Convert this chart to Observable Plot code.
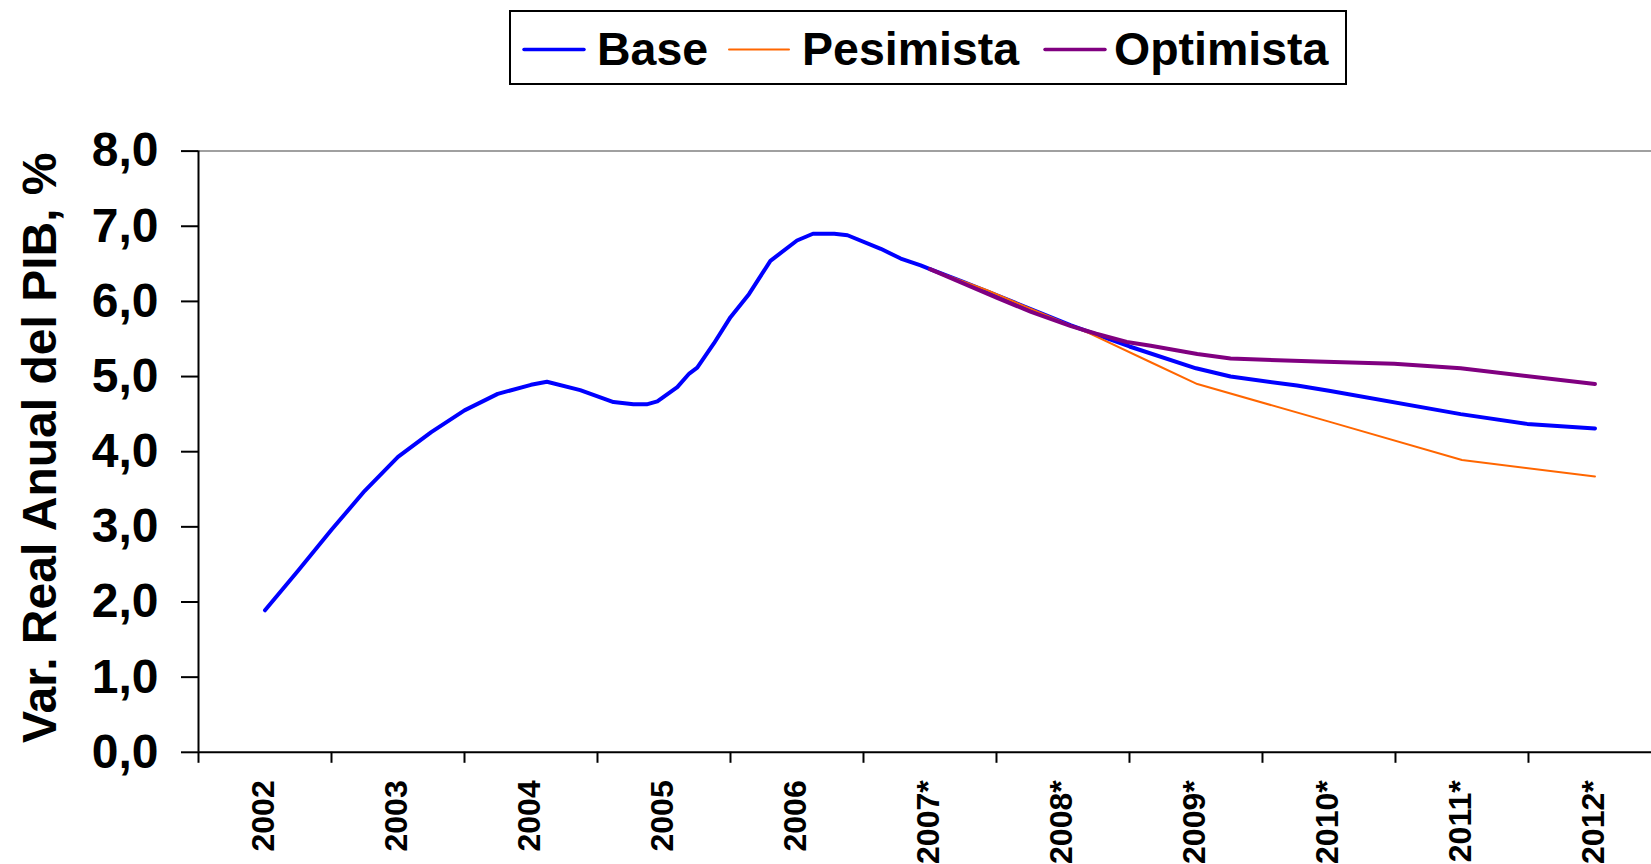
<!DOCTYPE html>
<html>
<head>
<meta charset="utf-8">
<script src="https://cdn.jsdelivr.net/npm/d3@7"></script>
<script src="https://cdn.jsdelivr.net/npm/@observablehq/plot@0.6"></script>
<style>
  html, body { margin: 0; padding: 0; background: #fff; }
  body { width: 1651px; height: 864px; overflow: hidden; font-family: "Liberation Sans", Arial, sans-serif; }
  #legend { display: block; }
  #chart svg { display: block; }
</style>
</head>
<body>
<div id="legend"></div>
<div id="chart"></div>
<script>
// ---- data ----
const seriesNames = ["Base", "Pesimista", "Optimista"];
const seriesColors = ["#0000FF", "#FF6600", "#800080"];
const seriesWidths = [4, 2, 4];

// x positions in years (category centre = year)
const baseT = [2002.00, 2002.25, 2002.50, 2002.75, 2003.00, 2003.25, 2003.50, 2003.75, 2004.00, 2004.12,
               2004.37, 2004.62, 2004.77, 2004.87, 2004.95, 2005.10, 2005.19, 2005.25, 2005.375, 2005.50,
               2005.64, 2005.80, 2006.00, 2006.12, 2006.28, 2006.38, 2006.63, 2006.78, 2006.93, 2007.00,
               2007.25, 2007.63, 2008.06, 2008.50, 2009.00, 2009.26, 2009.76, 2010.00, 2010.99, 2011.49, 2012.00];
const baseV = [1.89, 2.42, 2.96, 3.48, 3.93, 4.26, 4.55, 4.77, 4.89, 4.93,
               4.82, 4.66, 4.63, 4.63, 4.67, 4.86, 5.04, 5.12, 5.44, 5.79,
               6.10, 6.54, 6.81, 6.90, 6.90, 6.88, 6.70, 6.57, 6.48, 6.43,
               6.26, 5.99, 5.68, 5.40, 5.11, 5.00, 4.88, 4.81, 4.50, 4.37, 4.31];

const pesT = [2007.00, 2007.43, 2007.76, 2008.18, 2008.66, 2009.01, 2010.00, 2011.00, 2012.00];
const pesV = [6.43, 6.15, 5.90, 5.59, 5.19, 4.90, 4.40, 3.89, 3.67];

const optT = [2007.00, 2007.25, 2007.50, 2007.76, 2008.06, 2008.25, 2008.48, 2008.66, 2009.01, 2009.26,
              2009.91, 2010.49, 2010.99, 2012.00];
const optV = [6.43, 6.24, 6.05, 5.86, 5.67, 5.57, 5.46, 5.41, 5.30, 5.24,
              5.20, 5.17, 5.11, 4.90];

const xLabelYears = [2002, 2003, 2004, 2005, 2006, 2007, 2008, 2009, 2010, 2011, 2012];
const xLabels = ["2002", "2003", "2004", "2005", "2006", "2007*", "2008*", "2009*", "2010*", "2011*", "2012*"];
const xTickMarks = [2001.5, 2002.5, 2003.5, 2004.5, 2005.5, 2006.5, 2007.5, 2008.5, 2009.5, 2010.5, 2011.5];
const yTicks = [0, 1, 2, 3, 4, 5, 6, 7, 8];
const yTickLabels = ["0,0", "1,0", "2,0", "3,0", "4,0", "5,0", "6,0", "7,0", "8,0"];
const yTitle = "Var. Real Anual del PIB, %";

// ---- build tables ----
const toRows = (T, V) => T.map((t, i) => ({t, v: V[i]}));
const series = [toRows(baseT, baseV), toRows(pesT, pesV), toRows(optT, optV)];
const xLabelMap = new Map(xLabelYears.map((y, i) => [y, xLabels[i]]));

const FONT = '"Liberation Sans", Arial, sans-serif';

// ---- legend (above the plot) ----
const lg = d3.select("#legend").append("svg")
  .attr("width", 1651).attr("height", 100)
  .style("display", "block");
lg.append("rect")
  .attr("x", 510).attr("y", 11).attr("width", 836).attr("height", 73)
  .attr("fill", "#fff").attr("stroke", "#000").attr("stroke-width", 2);
const swatchX = [524, 729, 1045];
const labelX = [597, 802, 1114];
seriesNames.forEach((name, i) => {
  lg.append("line")
    .attr("x1", swatchX[i]).attr("x2", swatchX[i] + 60)
    .attr("y1", 49.5).attr("y2", 49.5)
    .attr("stroke", seriesColors[i]).attr("stroke-width", Math.min(seriesWidths[i], 3.5))
    .attr("stroke-linecap", "round");
  lg.append("text")
    .attr("x", labelX[i]).attr("y", 65)
    .attr("font-family", FONT).attr("font-weight", "bold").attr("font-size", 46.5)
    .attr("fill", "#000")
    .text(name);
});

// ---- chart ----
const chart = Plot.plot({
  width: 1651,
  height: 764,
  marginLeft: 198,
  marginRight: 0,
  marginTop: 50.6,
  marginBottom: 112.2,
  style: {fontFamily: FONT, fontWeight: "bold", color: "#000", background: "#fff", overflow: "visible"},
  x: {type: "linear", domain: [2001.5, 2012.425], axis: null},
  y: {type: "linear", domain: [0, 8], axis: null},
  marks: [
    Plot.ruleY([8], {stroke: "#808080", strokeWidth: 1.5}),
    Plot.ruleY([0], {stroke: "#000", strokeWidth: 2}),
    Plot.ruleX([2001.5], {y1: 0, y2: 8, stroke: "#000", strokeWidth: 2}),
    Plot.axisY({ticks: yTicks, tickFormat: d => yTickLabels[yTicks.indexOf(d)], tickSize: 17, tickPadding: 23,
                fontSize: 48, stroke: "#000", strokeWidth: 2, label: null}),
    Plot.axisX({ticks: xTickMarks, tickFormat: () => "", tickSize: 11, stroke: "#000", strokeWidth: 2, label: null}),
    Plot.axisX({ticks: xLabelYears, tickFormat: d => xLabelMap.get(d), tickSize: 0, tickRotate: -90,
                tickPadding: 28, fontSize: 32, dx: -1.5, label: null}),
    Plot.text([yTitle], {text: d => d, frameAnchor: "left", textAnchor: "middle", dx: -158, dy: -4, rotate: -90,
                         fontSize: 48, fontWeight: "bold", fill: "#000"}),
    ...series.map((rows, i) => Plot.line(rows, {x: "t", y: "v", stroke: seriesColors[i], strokeWidth: seriesWidths[i]}))
  ]
});
document.getElementById("chart").appendChild(chart);
</script>
</body>
</html>
